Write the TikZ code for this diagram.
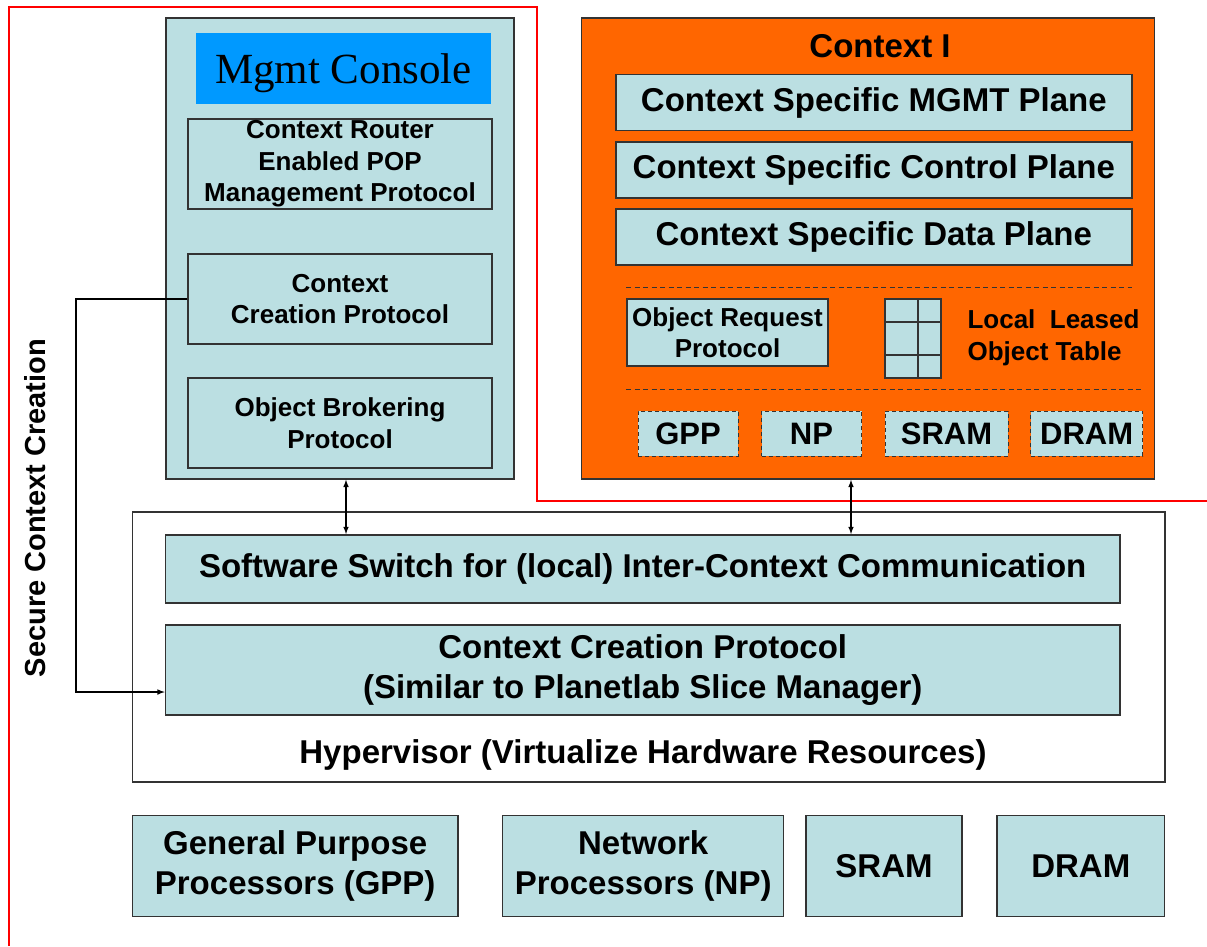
\documentclass[tikz,border=0pt]{standalone}
\usepackage{fontspec}
\setmainfont{Liberation Serif}
\setsansfont{Liberation Sans}
\usetikzlibrary{arrows}
\definecolor{paleblue}{HTML}{BBDFE2}
\definecolor{ctxorange}{HTML}{FF6600}
\definecolor{consoleblue}{HTML}{0099FF}
\newcommand{\txtbig}{\sffamily\bfseries\fontsize{33}{40}\selectfont}
\newcommand{\txtmid}{\sffamily\bfseries\fontsize{31}{36}\selectfont}
\newcommand{\txtsmall}{\sffamily\bfseries\fontsize{26}{31.5}\selectfont}
\tikzstyle{layer} = [rectangle, draw=black!80, line width=1.4pt, fill=paleblue, inner sep=0pt, align=center]
\tikzstyle{res} = [layer, dash pattern=on 4pt off 3pt, line width=1pt, font=\txtmid]
\tikzstyle{frame} = [rectangle, draw=black!80, line width=1.4pt, inner sep=0pt]
\tikzstyle{divider} = [dash pattern=on 5pt off 3.5pt, line width=1pt, black!80]
\tikzstyle{arrow} = [line width=1.5pt,->,>=latex]
\tikzstyle{twoway} = [line width=1.5pt,<->,>=latex]
\begin{document}
\begin{tikzpicture}[x=1pt,y=-1pt]
\useasboundingbox (0,0) rectangle (1207,946);

% secure domain
\draw[red, line width=1.2pt] (9,946)--(9,7)--(537,7)--(537,501)--(1207,501);
\node[rotate=90, font=\sffamily\bfseries\fontsize{29}{32}\selectfont] (secure) at (35,508) {Secure Context Creation};

% management side
\node[frame, fill=paleblue, minimum width=348, minimum height=461] (mgmt) at (340,248.5) {};
\node[fill=consoleblue, inner sep=0pt, text depth=0pt, minimum width=295, minimum height=71, font=\fontsize{43}{48}\selectfont] (console) at (343.5,68.3) {Mgmt Console};
\node[layer, font=\txtsmall, minimum width=304, minimum height=90] (router) at (340,164) {Context Router\\Enabled POP\\Management Protocol};
\node[layer, font=\txtsmall, minimum width=304, minimum height=90] (ccp) at (340,299) {Context\\Creation Protocol};
\node[layer, font=\txtsmall, minimum width=304, minimum height=90] (obp) at (340,423) {Object Brokering\\Protocol};

% context I
\node[frame, fill=ctxorange, minimum width=573, minimum height=461] (ctx) at (868,248.6) {};
\node[font=\txtbig] (ctxname) at (880,46) {Context I};
\node[layer, font=\txtbig, minimum width=516, minimum height=56] (mgmtplane) at (873.8,102.5) {Context Specific MGMT Plane};
\node[layer, font=\txtbig, minimum width=516, minimum height=56] (ctrlplane) at (873.8,170) {Context Specific Control Plane};
\node[layer, font=\txtbig, minimum width=516, minimum height=56] (dataplane) at (873.8,237) {Context Specific Data Plane};
\draw[divider] (626,287.5)--(1132,287.5);
\node[layer, font=\txtsmall, minimum width=201, minimum height=67] (orp) at (727.5,332.5) {Object Request\\Protocol};
\node[layer, line width=1.2pt, minimum width=56, minimum height=79] (objtable) at (913,338.5) {};
\draw[line width=1.2pt, black!80] (918,299)--(918,378);
\foreach \y in {322,355}
	\draw[line width=1.2pt, black!80] (885,\y)--(941,\y);
\node[anchor=west, align=left, font=\txtsmall] (leased) at (964,338) {Local\ \ Leased\\Object Table};
\draw[divider] (626,389)--(1143,389);
\node[res, minimum width=100, minimum height=45] (gpp) at (688,433.5) {GPP};
\node[res, minimum width=100, minimum height=45] (np) at (811.5,433.5) {NP};
\node[res, minimum width=123, minimum height=45] (sram) at (946.5,433.5) {SRAM};
\node[res, minimum width=112, minimum height=45] (dram) at (1086.7,433.5) {DRAM};

% hypervisor
\node[frame, fill=white, minimum width=1032.5, minimum height=270] (hyper) at (648.7,647) {};
\node[layer, font=\txtbig, minimum width=954.5, minimum height=68] (swsw) at (642.7,568.8) {Software Switch for (local) Inter-Context Communication};
\node[layer, font=\txtbig, minimum width=954.5, minimum height=90] (ccp2) at (642.7,669.8) {Context Creation Protocol\\(Similar to Planetlab Slice Manager)};
\node[font=\txtbig] (hyperlabel) at (643,755) {Hypervisor (Virtualize Hardware Resources)};

% hardware
\node[layer, font=\txtbig, minimum width=325.6, minimum height=101] (hwgpp) at (295.2,866.2) {General Purpose\\Processors (GPP)};
\node[layer, font=\txtbig, minimum width=281, minimum height=101] (hwnp) at (643.2,866.2) {Network\\Processors (NP)};
\node[layer, font=\txtbig, minimum width=156, minimum height=101] (hwsram) at (884,866.2) {SRAM};
\node[layer, font=\txtbig, minimum width=167.7, minimum height=101] (hwdram) at (1080.8,866.2) {DRAM};

% connectors
\coordinate (rail) at (76,692);
\draw[arrow] (ccp.west) -| (rail) -- (rail -| ccp2.west);
\draw[twoway] ([xshift=6]mgmt.south) -- ([xshift=6]mgmt.south |- swsw.north);
\draw[twoway] ([xshift=-17]ctx.south) -- ([xshift=-17]ctx.south |- swsw.north);
\end{tikzpicture}
\end{document}
